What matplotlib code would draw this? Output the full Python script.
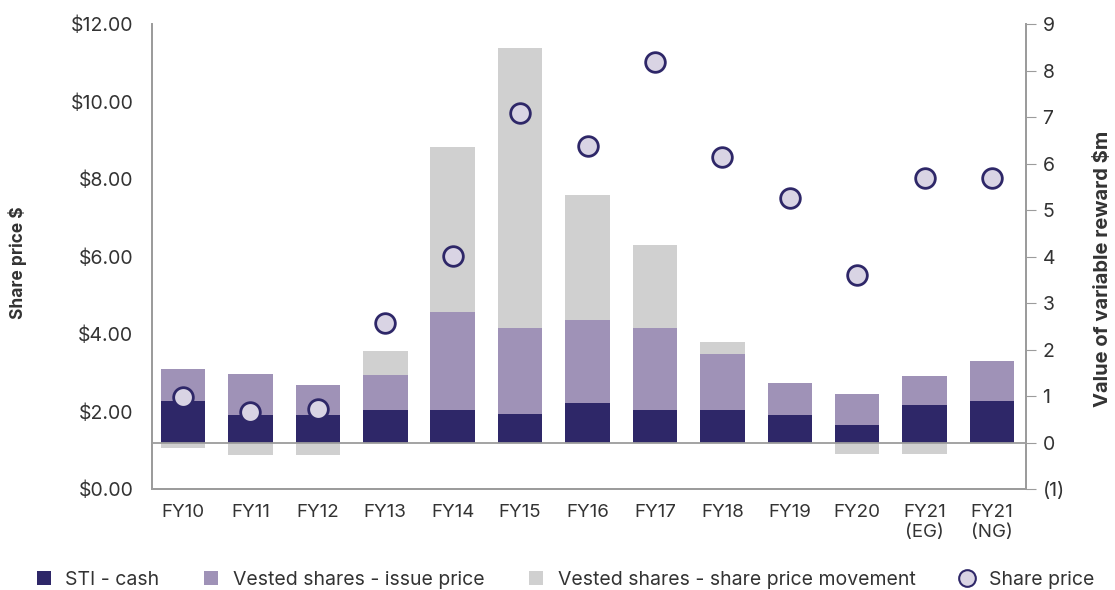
import matplotlib
matplotlib.use("Agg")
import numpy as np
import matplotlib.pyplot as plt
from matplotlib.lines import Line2D
from matplotlib.patches import Patch

plt.rcParams['font.family'] = ['Inter', 'DejaVu Sans']

# data
years = ["FY10", "FY11", "FY12", "FY13", "FY14", "FY15", "FY16", "FY17",
         "FY18", "FY19", "FY20", "FY21\n(EG)", "FY21\n(NG)"]
sti_cash = [0.89, 0.60, 0.60, 0.70, 0.71, 0.62, 0.86, 0.71, 0.71, 0.59, 0.37, 0.80, 0.89]
vested_issue = [0.70, 0.87, 0.65, 0.76, 2.09, 1.85, 1.78, 1.76, 1.20, 0.70, 0.68, 0.63, 0.87]
vested_movement = [-0.12, -0.27, -0.27, 0.50, 3.55, 6.02, 2.69, 1.78, 0.26, 0.0, -0.24, -0.24, 0.0]
share_price = [2.38, 1.98, 2.07, 4.28, 6.02, 9.70, 8.86, 11.02, 8.58, 7.51, 5.52, 8.03, 8.03]

NAVY = "#2e2768"
LAVENDER = "#9f92b7"
GREY = "#d0d0d0"
DOT_FACE = "#d9d4e4"
AXIS_GREY = "#9c9c9c"
TEXT = "#333333"

fig = plt.figure(figsize=(11.15, 5.9), dpi=100)
ax = fig.add_axes([0.1363, 0.171, 0.7837, 0.788])
ax_price = ax.twinx()

x = np.arange(len(years))
width = 0.66

sti = np.array(sti_cash)
issue = np.array(vested_issue)
move = np.array(vested_movement)

ax.bar(x, sti, width, color=NAVY, zorder=2)
ax.bar(x, issue, width, bottom=sti, color=LAVENDER, zorder=2)
# positive movement stacks on top, negative hangs below zero
move_bottom = np.where(move >= 0, sti + issue, 0)
ax.bar(x, move, width, bottom=move_bottom, color=GREY, zorder=2)
ax.axhline(0, color=AXIS_GREY, lw=1.3, zorder=3)

ax.set_ylim(-1, 9)
ax.set_xlim(-0.46, 12.5)
ax.set_yticks(range(-1, 10))
ax.set_yticklabels(["(1)"] + [str(i) for i in range(0, 10)])
ax.yaxis.tick_right()
ax.tick_params(axis="y", length=7, color=AXIS_GREY, labelsize=14,
               labelcolor=TEXT, pad=5)
ax.set_xticks(x)
ax.set_xticklabels(years)
ax.tick_params(axis="x", length=0, labelsize=13.5, labelcolor=TEXT, pad=11)

ax_price.scatter(x, share_price, s=200, facecolor=DOT_FACE, edgecolor=NAVY,
                 linewidth=2, zorder=5)
ax_price.set_ylim(0, 12)
ax_price.set_yticks(range(0, 13, 2))
ax_price.set_yticklabels([f"${v:.2f}" for v in range(0, 13, 2)])
ax_price.yaxis.tick_left()
ax_price.tick_params(axis="y", length=0, labelsize=14, labelcolor=TEXT, pad=13.5)

for a in (ax, ax_price):
    a.spines["top"].set_visible(False)
    for s in ("left", "right", "bottom"):
        a.spines[s].set_color(AXIS_GREY)
        a.spines[s].set_linewidth(1.3)

fig.text(0.0161, 0.554, "Share price $", rotation=90, ha="center", va="center",
         fontsize=12.5, fontweight="bold", color=TEXT)
fig.text(0.989, 0.544, "Value of variable reward $m", rotation=90, ha="center",
         va="center", fontsize=14.5, fontweight="bold", color=TEXT)

handles = [
    Patch(facecolor=NAVY, label="STI - cash"),
    Patch(facecolor=LAVENDER, label="Vested shares - issue price"),
    Patch(facecolor=GREY, label="Vested shares - share price movement"),
    Line2D([], [], marker="o", linestyle="", markersize=12, markerfacecolor=DOT_FACE,
           markeredgecolor=NAVY, markeredgewidth=1.5, label="Share price"),
]
fig.legend(handles=handles, loc="center", bbox_to_anchor=(0.507, 0.017), ncol=4,
           frameon=False, fontsize=14, handlelength=0.72, handleheight=0.72,
           columnspacing=2.3, handletextpad=0.75, labelcolor=TEXT, borderpad=0)

fig.savefig("out.png", dpi=100)
